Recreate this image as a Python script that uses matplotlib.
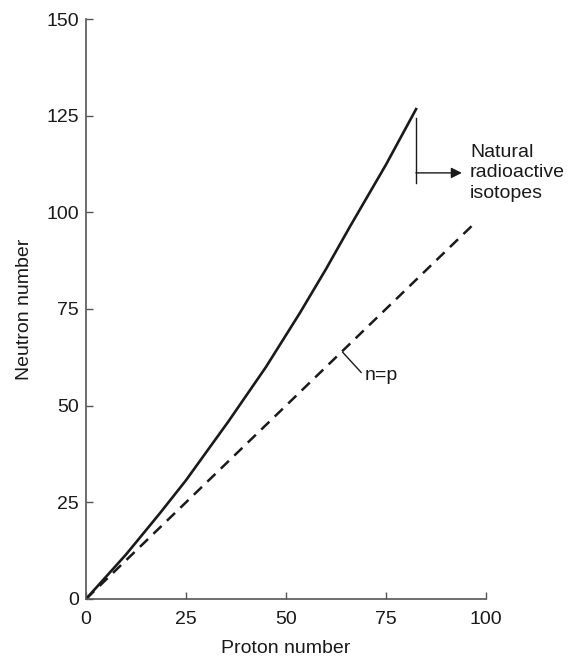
import matplotlib.pyplot as plt
import numpy as np

plt.rcParams['font.family'] = ['Liberation Sans', 'DejaVu Sans']

# Stable-nuclide line (proton number vs neutron number)
proton = [0, 4, 10, 18.5, 25, 35.6, 45, 53.5, 60, 66, 75, 82.7]
neutron = [0, 4.6, 11.5, 22.2, 30.7, 45.9, 60, 74, 85.3, 96.3, 112.3, 127]

# n = p reference line
np_line = [0, 97]

x_ticks = [0, 25, 50, 75, 100]
y_ticks = [0, 25, 50, 75, 100, 125, 150]

fig = plt.figure(figsize=(5.75, 6.58), dpi=100)
ax = fig.add_axes([0.1496, 0.0897, 0.6954, 0.8814])

ax.plot(proton, neutron, color='#1a1a1a', linewidth=1.9, solid_capstyle='butt')
ax.plot(np_line, np_line, color='#1a1a1a', linewidth=1.8, linestyle=(0, (4.5, 3)))

# bracket marking the natural radioactive isotopes
ax.plot([82.5, 82.5], [107.6, 124.4], color='#1a1a1a', linewidth=1.0)
ax.annotate('', xy=(94, 110.2), xytext=(82.5, 110.2),
            arrowprops=dict(arrowstyle='-|>', color='#1a1a1a', lw=1.0,
                            mutation_scale=16, shrinkA=0, shrinkB=0))
ax.text(96, 110.2, 'Natural\nradioactive\nisotopes', fontsize=14, ha='left',
        va='center', linespacing=1.25, color='#1a1a1a')

# n=p label with leader line
ax.plot([64.2, 68.8], [63.8, 58.6], color='#1a1a1a', linewidth=1.0)
ax.text(69.8, 57.8, 'n=p', fontsize=14, ha='left', va='center', color='#1a1a1a')

ax.set_xlim(0, 100)
ax.set_ylim(0, 150)
ax.set_xticks(x_ticks)
ax.set_yticks(y_ticks)
ax.tick_params(direction='in', length=5, width=1, colors='#555555',
               labelcolor='#1a1a1a', labelsize=14, pad=5)
ax.tick_params(axis='x', pad=8.5)
for side in ['top', 'right']:
    ax.spines[side].set_visible(False)
for side in ['left', 'bottom']:
    ax.spines[side].set_color('#555555')
    ax.spines[side].set_linewidth(1.2)

ax.set_xlabel('Proton number', fontsize=14, color='#1a1a1a', labelpad=9)
ax.set_ylabel('Neutron number', fontsize=14, color='#1a1a1a', labelpad=10)

fig.savefig('out.png', dpi=100)
